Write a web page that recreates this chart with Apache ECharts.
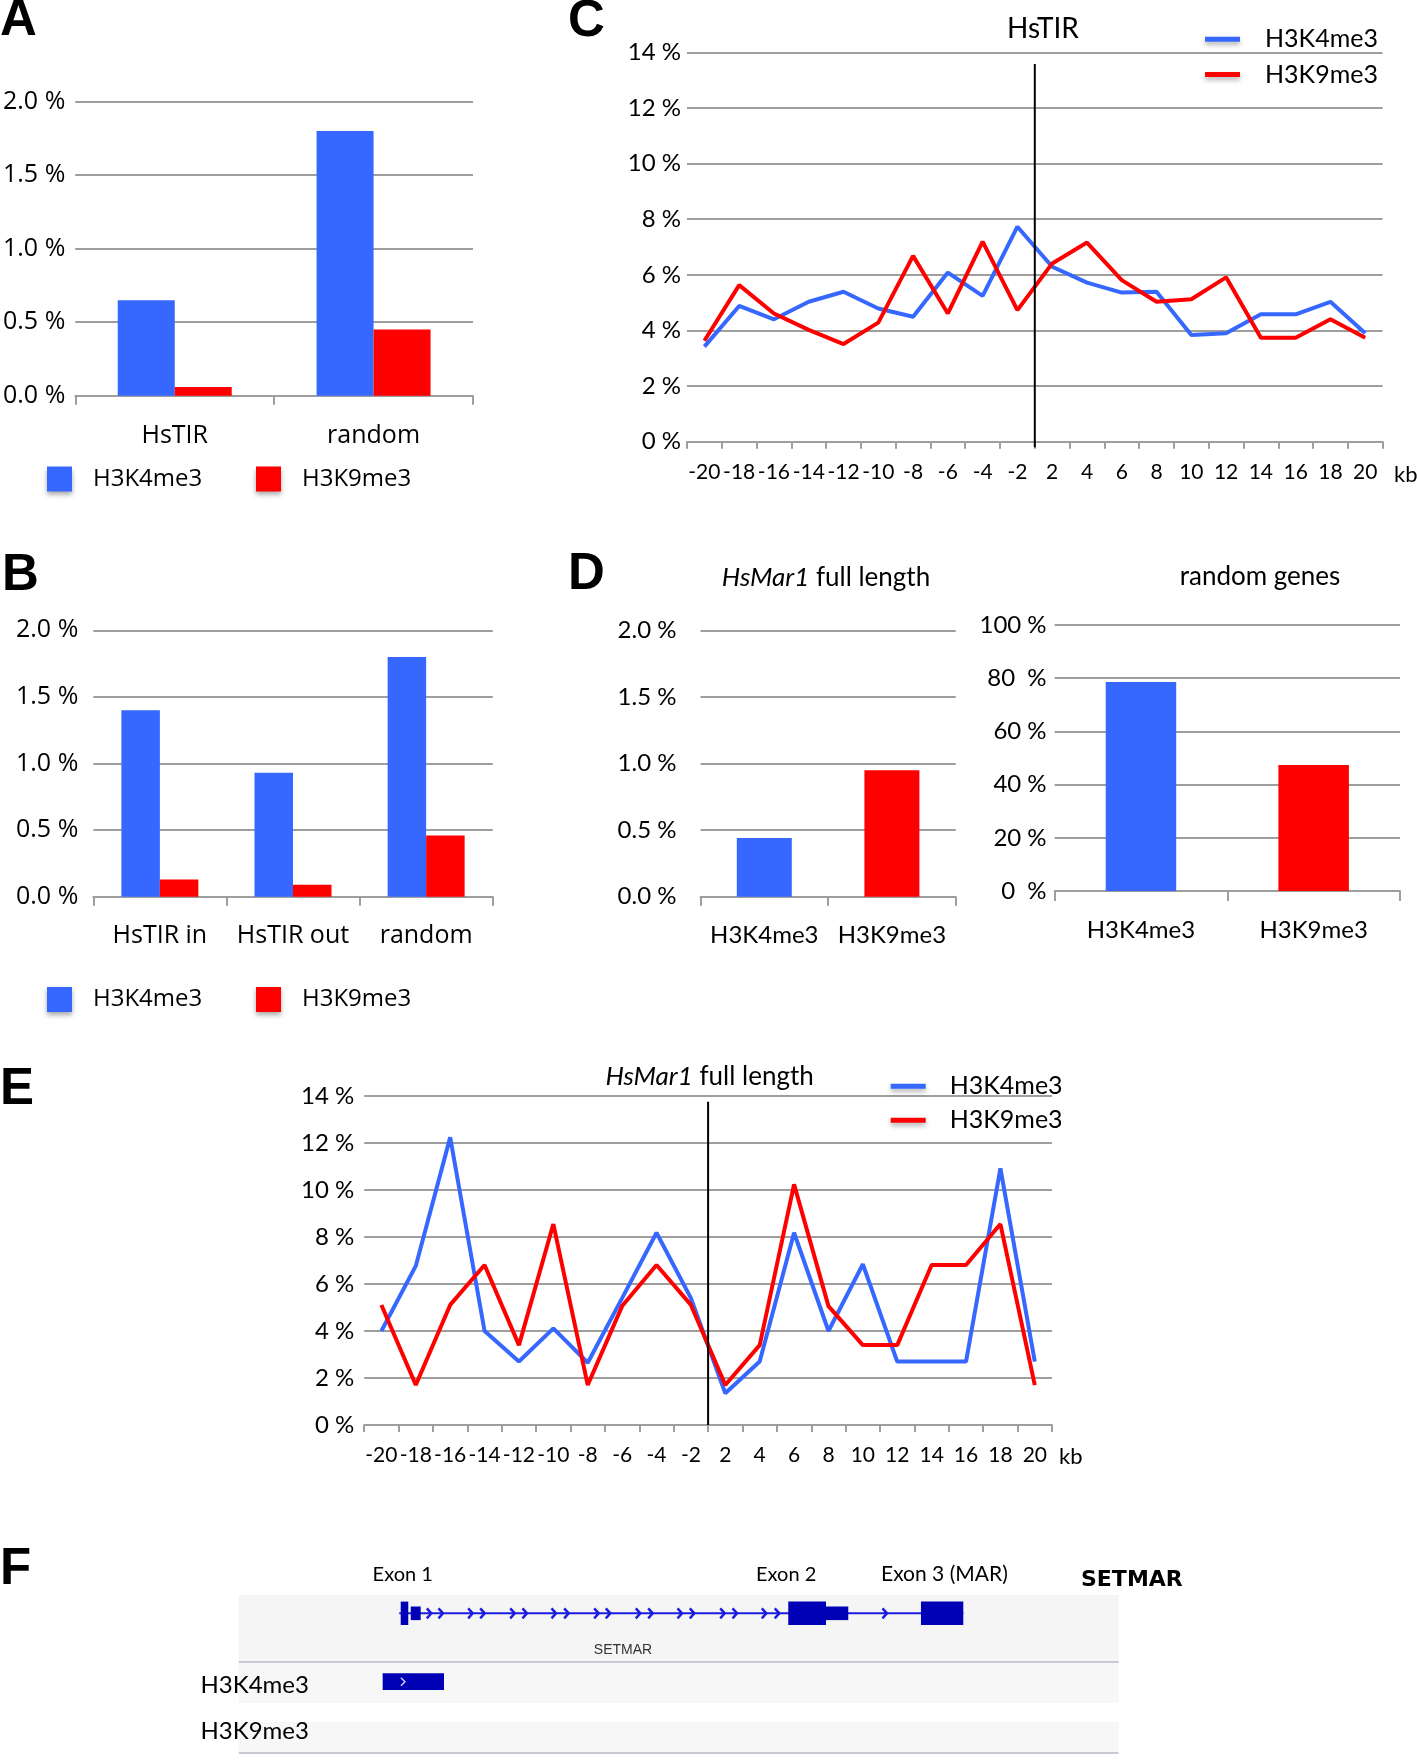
<!DOCTYPE html>
<html><head><meta charset="utf-8">
<script src="https://cdn.jsdelivr.net/npm/echarts@6/dist/echarts.min.js"></script>
<style>html,body{margin:0;padding:0;background:#fff}#c{width:1417px;height:1764px}</style>
</head><body><div id="c"></div>
<script>
// ---------------- DATA ----------------
const seriesNames = ['H3K4me3', 'H3K9me3'];

// Panel A
const aCategories = ['HsTIR', 'random'];
const aK4 = [0.65, 1.80];
const aK9 = [0.06, 0.45];

// Panel B
const bCategories = ['HsTIR in', 'HsTIR out', 'random'];
const bK4 = [1.40, 0.93, 1.80];
const bK9 = [0.13, 0.09, 0.46];

// Panel C (HsTIR profile, kb)
const kbLabels = ['-20','-18','-16','-14','-12','-10','-8','-6','-4','-2','2','4','6','8','10','12','14','16','18','20'];
const cK4 = [3.42, 4.88, 4.40, 5.03, 5.39, 4.79, 4.49, 6.08, 5.24, 7.73, 6.29, 5.72, 5.36, 5.39, 3.84, 3.90, 4.58, 4.58, 5.03, 3.90];
const cK9 = [3.63, 5.63, 4.61, 4.02, 3.51, 4.28, 6.68, 4.61, 7.19, 4.73, 6.41, 7.16, 5.81, 5.03, 5.12, 5.91, 3.74, 3.74, 4.40, 3.74];
const dividerKb = 0;

// Panel D
const dHsMarCategories = ['H3K4me3', 'H3K9me3'];
const dHsMarValues = [0.44, 0.95];
const dRandomCategories = ['H3K4me3', 'H3K9me3'];
const dRandomValues = [78.6, 47.4];

// Panel E (HsMar1 full length profile, kb)
const eK4 = [4.00, 6.77, 12.24, 4.00, 2.70, 4.11, 2.65, 5.40, 8.18, 5.40, 1.35, 2.70, 8.18, 4.00, 6.84, 2.70, 2.70, 2.70, 10.92, 2.70];
const eK9 = [5.11, 1.70, 5.11, 6.81, 3.40, 8.55, 1.70, 5.06, 6.81, 5.11, 1.70, 3.40, 10.24, 5.06, 3.40, 3.40, 6.81, 6.81, 8.55, 1.70];

// Tick labels
const pctTicks2 = ['0.0 %', '0.5 %', '1.0 %', '1.5 %', '2.0 %'];
const pctTicks14 = ['0 %', '2 %', '4 %', '6 %', '8 %', '10 %', '12 %', '14 %'];
const pctTicks100 = ['0  %', '20 %', '40 %', '60 %', '80  %', '100 %'];

// Panel F (SETMAR locus, relative position % of view)
const fIntron = [[18.24, 82.34]];
const fExonTall = [[18.41, 19.27], [62.45, 66.74], [77.53, 82.34]];
const fExonMid = [[19.55, 20.68], [66.74, 69.27]];
const fArrows = [21.66, 22.99, 26.36, 27.73, 31.14, 32.53, 35.83, 37.27, 40.68, 42.00, 45.41, 46.82, 50.15, 51.55, 55.00, 56.40, 59.73, 61.20, 73.44];
const fK4Peaks = [[16.36, 23.33]];

// ---------------- STYLE ----------------
const BLUE = '#3667ff';
const RED = '#ff0000';
const GRAY = '#9e9e9e';
const GENE = '#0000b4';
const GENE_LINE = '#1c1ce0';
const SANS_A = 'Open Sans';
const SANS_C = 'Lato';

function catAxis(gridIndex, data, o) {
  return {
    type: 'category', gridIndex, data,
    axisLine: { show: true, lineStyle: { color: GRAY, width: 2 } },
    axisTick: { show: true, length: o.tick || 8, interval: 0, lineStyle: { color: GRAY, width: 2 } },
    axisLabel: { interval: 0, margin: o.margin, fontFamily: o.font, fontSize: o.size, color: '#000' },
    splitLine: { show: false }
  };
}
function valAxis(gridIndex, max, interval, labels, o) {
  return {
    type: 'value', gridIndex, min: 0, max, interval,
    axisLine: { show: false }, axisTick: { show: false },
    splitLine: { show: true, lineStyle: { color: GRAY, width: 2 } },
    axisLabel: { margin: o.margin, fontFamily: o.font, fontSize: o.size, color: '#000',
      padding: o.pad || 0,
      formatter: v => labels[Math.round(v / interval)] }
  };
}
function squareLegend(name, left, top) {
  return {
    data: [name], left, top, padding: 0, icon: 'rect', itemWidth: 25, itemHeight: 25,
    selectedMode: false,
    itemStyle: { shadowBlur: 5, shadowColor: 'rgba(0,0,0,0.35)', shadowOffsetY: 3 },
    textStyle: { fontFamily: SANS_A, fontSize: 24, color: '#000', padding: [0, 0, 0, 16] }
  };
}
function lineLegend(name, left, top, pad) {
  return {
    data: [name], left, top, padding: 0, icon: 'rect', itemWidth: 35, itemHeight: 5,
    selectedMode: false,
    itemStyle: { shadowBlur: 5, shadowColor: 'rgba(0,0,0,0.3)', shadowOffsetY: 3 },
    textStyle: { fontFamily: SANS_C, fontSize: 25, color: '#000', padding: pad }
  };
}
function barSeries(name, x, y, data, color, width) {
  return { type: 'bar', name, xAxisIndex: x, yAxisIndex: y, data, barWidth: width, barGap: '0%',
    itemStyle: { color }, emphasis: { disabled: true } };
}
function lineSeries(name, x, y, data, color, z) {
  return { type: 'line', name, xAxisIndex: x, yAxisIndex: y, data, symbol: 'none', z,
    itemStyle: { color }, lineStyle: { color, width: 4 }, emphasis: { disabled: true } };
}
function dividerSeries(x, y, top, bottom) {
  return { type: 'line', xAxisIndex: x, yAxisIndex: y, data: [[dividerKb, top], [dividerKb, bottom]],
    symbol: 'none', clip: false, z: 5, lineStyle: { color: '#000', width: 2 }, silent: true };
}

// F track rows (pixel offsets inside the F grid)
const F_GENE_ROW = 18.3, F_PEAK_ROW = 86.7;
function blockRenderer(rowY, halfH, color, chevron) {
  return function (params, api) {
    const p0 = api.coord([api.value(0), rowY]);
    const p1 = api.coord([api.value(1), rowY]);
    const children = [{ type: 'rect', shape: { x: p0[0], y: p0[1] - halfH, width: p1[0] - p0[0], height: 2 * halfH }, style: { fill: color } }];
    if (chevron) {
      const cx = p0[0] + (p1[0] - p0[0]) * 0.33;
      children.push({ type: 'polyline', shape: { points: [[cx - 2, p0[1] - 4], [cx + 2, p0[1]], [cx - 2, p0[1] + 4]] },
        style: { stroke: '#c8c8ff', lineWidth: 1.5, fill: null } });
    }
    return { type: 'group', children };
  };
}
function lineRenderer(rowY, color) {
  return function (params, api) {
    const p0 = api.coord([api.value(0), rowY]);
    const p1 = api.coord([api.value(1), rowY]);
    return { type: 'line', shape: { x1: p0[0], y1: p0[1], x2: p1[0], y2: p1[1] }, style: { stroke: color, lineWidth: 2 } };
  };
}
function arrowRenderer(rowY, color) {
  return function (params, api) {
    const p = api.coord([api.value(0), rowY]);
    return { type: 'polyline', shape: { points: [[p[0] - 2.5, p[1] - 5], [p[0] + 2, p[1]], [p[0] - 2.5, p[1] + 5]] },
      style: { stroke: color, lineWidth: 2.5, fill: null } };
  };
}

const option = {
  animation: false,
  backgroundColor: '#fff',
  grid: [
    { left: 73, top: 101.7, width: 400, height: 294 },      // A
    { left: 93.3, top: 630.3, width: 399.4, height: 266.4 }, // B
    { left: 687, top: 52.3, width: 695.6, height: 389.4 },   // C
    { left: 700.5, top: 630.3, width: 255.2, height: 266.4 },// D left
    { left: 1054.6, top: 625, width: 345.4, height: 266 },   // D right
    { left: 364.2, top: 1096, width: 687.8, height: 329 },   // E
    { left: 238.7, top: 1595, width: 880, height: 158 }      // F
  ],
  xAxis: [
    catAxis(0, aCategories, { margin: 28, font: SANS_A, size: 25, tick: 9 }),
    catAxis(1, bCategories, { margin: 27, font: SANS_A, size: 25, tick: 9 }),
    catAxis(2, kbLabels, { margin: 20, font: SANS_C, size: 21, tick: 7 }),
    { type: 'value', gridIndex: 2, min: -20, max: 20, show: false },
    catAxis(3, dHsMarCategories, { margin: 27, font: SANS_C, size: 24, tick: 9 }),
    catAxis(4, dRandomCategories, { margin: 27, font: SANS_C, size: 24, tick: 10 }),
    catAxis(5, kbLabels, { margin: 20, font: SANS_C, size: 21, tick: 7 }),
    { type: 'value', gridIndex: 5, min: -20, max: 20, show: false },
    { type: 'value', gridIndex: 6, min: 0, max: 100, show: false }
  ],
  yAxis: [
    valAxis(0, 2, 0.5, pctTicks2, { margin: 10, font: SANS_A, size: 25, pad: [0, 0, 7, 0] }),
    valAxis(1, 2, 0.5, pctTicks2, { margin: 15, font: SANS_A, size: 25 }),
    valAxis(2, 14, 2, pctTicks14, { margin: 6, font: SANS_C, size: 24 }),
    valAxis(3, 2, 0.5, pctTicks2, { margin: 24, font: SANS_C, size: 24 }),
    valAxis(4, 100, 20, pctTicks100, { margin: 8, font: SANS_C, size: 24 }),
    valAxis(5, 14, 2, pctTicks14, { margin: 10, font: SANS_C, size: 24 }),
    { type: 'value', gridIndex: 6, min: 0, max: 158, inverse: true, show: false }
  ],
  legend: [
    squareLegend(seriesNames[0], 47, 466.5),
    squareLegend(seriesNames[1], 256, 466.5),
    squareLegend(seriesNames[0], 47, 987),
    squareLegend(seriesNames[1], 256, 987),
    lineLegend(seriesNames[0], 1205, 26.7, [0, 0, 8, 20]),
    lineLegend(seriesNames[1], 1205, 62, [8, 0, 0, 20]),
    lineLegend(seriesNames[0], 890.7, 1073.7, [0, 0, 6, 19]),
    lineLegend(seriesNames[1], 890.7, 1107.7, [6, 0, 0, 19])
  ],
  series: [
    barSeries(seriesNames[0], 0, 0, aK4, BLUE, 57),
    barSeries(seriesNames[1], 0, 0, aK9, RED, 57),
    barSeries(seriesNames[0], 1, 1, bK4, BLUE, 38.5),
    barSeries(seriesNames[1], 1, 1, bK9, RED, 38.5),
    lineSeries(seriesNames[0], 2, 2, cK4, BLUE, 2),
    lineSeries(seriesNames[1], 2, 2, cK9, RED, 3),
    dividerSeries(3, 2, 13.58, -0.2),
    { type: 'bar', name: 'HsMar1 full length', xAxisIndex: 4, yAxisIndex: 3, barWidth: 55, emphasis: { disabled: true },
      data: dHsMarValues.map((v, i) => ({ value: v, itemStyle: { color: i === 0 ? BLUE : RED } })) },
    { type: 'bar', name: 'random genes', xAxisIndex: 5, yAxisIndex: 4, barWidth: 70.5, emphasis: { disabled: true },
      data: dRandomValues.map((v, i) => ({ value: v, itemStyle: { color: i === 0 ? BLUE : RED } })) },
    lineSeries(seriesNames[0], 6, 5, eK4, BLUE, 2),
    lineSeries(seriesNames[1], 6, 5, eK9, RED, 3),
    dividerSeries(7, 5, 13.76, 0),
    // Panel F gene model
    { type: 'custom', name: 'intron', xAxisIndex: 8, yAxisIndex: 6, data: fIntron, renderItem: lineRenderer(F_GENE_ROW, GENE_LINE), z: 3, silent: true },
    { type: 'custom', name: 'arrows', xAxisIndex: 8, yAxisIndex: 6, data: fArrows.map(x => [x]), renderItem: arrowRenderer(F_GENE_ROW, GENE_LINE), z: 3, silent: true },
    { type: 'custom', name: 'exonMid', xAxisIndex: 8, yAxisIndex: 6, data: fExonMid, renderItem: blockRenderer(F_GENE_ROW, 6.8, GENE, false), z: 4, silent: true },
    { type: 'custom', name: 'exonTall', xAxisIndex: 8, yAxisIndex: 6, data: fExonTall, renderItem: blockRenderer(F_GENE_ROW, 11.7, GENE, false), z: 4, silent: true },
    { type: 'custom', name: 'k4peak', xAxisIndex: 8, yAxisIndex: 6, data: fK4Peaks, renderItem: blockRenderer(F_PEAK_ROW, 8.4, GENE, true), z: 4, silent: true }
  ],
  graphic: [
    // Panel F track backgrounds
    { type: 'rect', z: 0, shape: { x: 238.7, y: 1595, width: 880, height: 67 }, style: { fill: '#f5f5f6' } },
    { type: 'rect', z: 0, shape: { x: 238.7, y: 1663, width: 880, height: 40 }, style: { fill: '#f7f7f7' } },
    { type: 'rect', z: 0, shape: { x: 238.7, y: 1722, width: 880, height: 31 }, style: { fill: '#f7f7f7' } },
    { type: 'line', z: 1, shape: { x1: 238.7, y1: 1662, x2: 1118.6, y2: 1662 }, style: { stroke: '#c9c9d3', lineWidth: 2 } },
    { type: 'line', z: 1, shape: { x1: 238.7, y1: 1753, x2: 1118.6, y2: 1753 }, style: { stroke: '#c9c9d3', lineWidth: 2 } },
    // panel letters
    ...[['A', 0, 21], ['B', 2, 576], ['C', 568, 22], ['D', 568, 575], ['E', 0, 1090], ['F', 0, 1570]].map(([t, x, y]) => ({
      type: 'text', z: 10, style: { x, y, text: t, font: 'bold 51px "Liberation Sans", Arial, sans-serif', fill: '#000', textVerticalAlign: 'middle' } })),
    // titles
    { type: 'text', z: 10, style: { x: 1043, y: 29, text: 'HsTIR', font: '28px Lato', fill: '#000', textAlign: 'center', textVerticalAlign: 'middle' } },
    { type: 'text', z: 10, style: { x: 826, y: 578, text: '{i|HsMar1} full length', textAlign: 'center', textVerticalAlign: 'middle',
      fontFamily: 'Lato', fontSize: 26, fill: '#000', rich: { i: { fontStyle: 'italic', fontFamily: 'Lato', fontSize: 26, fill: '#000' } } } },
    { type: 'text', z: 10, style: { x: 1260, y: 577, text: 'random genes', font: '26px Lato', fill: '#000', textAlign: 'center', textVerticalAlign: 'middle' } },
    { type: 'text', z: 10, style: { x: 709.6, y: 1077, text: '{i|HsMar1} full length', textAlign: 'center', textVerticalAlign: 'middle',
      fontFamily: 'Lato', fontSize: 26, fill: '#000', rich: { i: { fontStyle: 'italic', fontFamily: 'Lato', fontSize: 26, fill: '#000' } } } },
    { type: 'text', z: 10, style: { x: 1394, y: 474.5, text: 'kb', font: '22px Lato', fill: '#000', textVerticalAlign: 'middle' } },
    { type: 'text', z: 10, style: { x: 1059, y: 1457, text: 'kb', font: '22px Lato', fill: '#000', textVerticalAlign: 'middle' } },
    // panel F labels
    { type: 'text', z: 10, style: { x: 372.6, y: 1574.5, text: 'Exon 1', font: '20px Lato', fill: '#000', textVerticalAlign: 'middle' } },
    { type: 'text', z: 10, style: { x: 756, y: 1574.5, text: 'Exon 2', font: '20px Lato', fill: '#000', textVerticalAlign: 'middle' } },
    { type: 'text', z: 10, style: { x: 881, y: 1574.5, text: 'Exon 3 (MAR)', font: '21px Lato', fill: '#000', textVerticalAlign: 'middle' } },
    { type: 'text', z: 10, style: { x: 1081, y: 1580, text: 'SETMAR', font: 'bold 22px "DejaVu Sans"', fill: '#000', textVerticalAlign: 'middle' } },
    { type: 'text', z: 10, style: { x: 623, y: 1650, text: 'SETMAR', font: '14px "Liberation Sans"', fill: '#333', textAlign: 'center', textVerticalAlign: 'middle' } },
    { type: 'text', z: 10, style: { x: 200.5, y: 1685, text: 'H3K4me3', font: '24px Lato', fill: '#000', textVerticalAlign: 'middle' } },
    { type: 'text', z: 10, style: { x: 200.5, y: 1731.5, text: 'H3K9me3', font: '24px Lato', fill: '#000', textVerticalAlign: 'middle' } }
  ]
};

const chart = echarts.init(document.getElementById('c'), null, { renderer: 'canvas', width: 1417, height: 1764 });
chart.setOption(option);
</script>
</body></html>
